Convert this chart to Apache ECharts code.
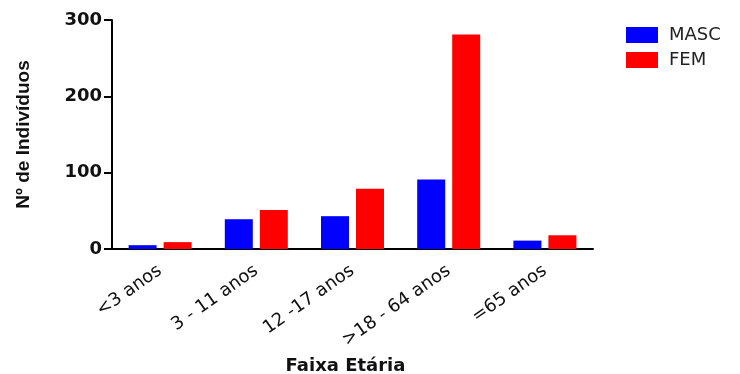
<!DOCTYPE html>
<html>
<head>
<meta charset="utf-8">
<script src="https://cdn.jsdelivr.net/npm/echarts@6/dist/echarts.min.js"></script>
<style>
  html, body { margin: 0; padding: 0; background: #fff; }
  #chart { width: 740px; height: 374px; }
</style>
</head>
<body>
<div id="chart"></div>
<script>
// faixa etaria
const categories = ['<3 anos', '3 - 11 anos', '12 -17 anos', '>18 - 64 anos', '=65 anos']
const masc = [5, 39, 43, 91, 11]
const fem = [9, 51, 79, 281, 18]
const yTicks = [0, 100, 200, 300]

const chart = echarts.init(document.getElementById('chart'))

const option = {
  animation: false,
  legend: {
    orient: 'vertical',
    left: 621,
    top: 21,
    itemWidth: 32,
    itemHeight: 16,
    itemGap: 7,
    icon: 'rect',
    textStyle: {
      fontFamily: 'DejaVu Sans',
      fontSize: 18,
      color: '#222',
      padding: [0, 0, 0, 6]
    },
    data: ['MASC', 'FEM']
  },
  grid: {
    left: 112,
    right: 147,
    top: 20,
    bottom: 125,
    containLabel: false,
    outerBoundsMode: 'none'
  },
  xAxis: {
    type: 'category',
    data: categories,
    name: 'Faixa Etária',
    nameLocation: 'middle',
    nameGap: 108,
    nameTextStyle: {
      fontFamily: 'DejaVu Sans',
      fontWeight: 'bold',
      fontSize: 18,
      color: '#111',
      padding: [0, 14, 0, 0]
    },
    axisLine: { lineStyle: { color: '#000', width: 2 } },
    axisTick: { alignWithLabel: true, length: 6, lineStyle: { color: '#000', width: 2 } },
    axisLabel: {
      interval: 0,
      rotate: 35,
      margin: 20,
      fontFamily: 'DejaVu Sans',
      fontSize: 18,
      color: '#111'
    }
  },
  yAxis: {
    type: 'value',
    min: yTicks[0],
    max: yTicks[yTicks.length - 1],
    interval: 100,
    name: 'Nº de Indivíduos',
    nameLocation: 'middle',
    nameRotate: 90,
    nameGap: 79,
    nameTextStyle: {
      fontFamily: 'Liberation Sans',
      fontWeight: 'bold',
      fontSize: 19,
      color: '#111'
    },
    splitLine: { show: false },
    axisLine: { show: true, lineStyle: { color: '#000', width: 2 } },
    axisTick: { show: true, length: 8, lineStyle: { color: '#000', width: 2 } },
    axisLabel: {
      margin: 10,
      fontFamily: 'DejaVu Sans',
      fontWeight: 'bold',
      fontSize: 18,
      color: '#111'
    }
  },
  series: [
    {
      name: 'MASC',
      type: 'bar',
      data: masc,
      barWidth: 28,
      barGap: '25%',
      itemStyle: { color: '#0000ff' }
    },
    {
      name: 'FEM',
      type: 'bar',
      data: fem,
      barWidth: 28,
      itemStyle: { color: '#ff0000' }
    }
  ]
}

chart.setOption(option)
window.addEventListener('resize', () => chart.resize())
</script>
</body>
</html>
